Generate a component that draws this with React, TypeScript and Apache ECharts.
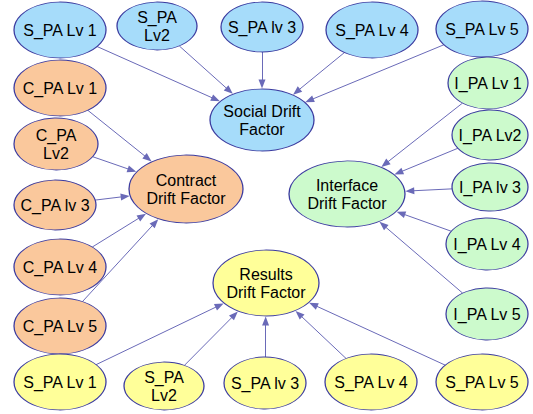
import React, { useEffect, useRef } from "react";
import * as echarts from "echarts";

// ---- Data ----
const nodeNames: string[] = [
  "S_PA Lv 1", "S_PA\nLv2", "S_PA lv 3", "S_PA Lv 4", "S_PA Lv 5", "Social Drift\nFactor",
  "C_PA Lv 1", "C_PA\nLv2", "C_PA lv 3", "C_PA Lv 4", "C_PA Lv 5", "Contract\nDrift Factor",
  "I_PA Lv 1", "I_PA Lv2", "I_PA lv 3", "I_PA Lv 4", "I_PA Lv 5", "Interface\nDrift Factor",
  "S_PA Lv 1 ", "S_PA\nLv2 ", "S_PA lv 3 ", "S_PA Lv 4 ", "S_PA Lv 5 ", "Results\nDrift Factor",
];
const nodeGroup: number[] = [
  0, 0, 0, 0, 0, 0,
  1, 1, 1, 1, 1, 1,
  2, 2, 2, 2, 2, 2,
  3, 3, 3, 3, 3, 3,
];
// edges: [source index, target index]
const edges: [number, number][] = [
  [0, 5], [1, 5], [2, 5], [3, 5], [4, 5],
  [6, 11], [7, 11], [8, 11], [9, 11], [10, 11],
  [12, 17], [13, 17], [14, 17], [15, 17], [16, 17],
  [18, 23], [19, 23], [20, 23], [21, 23], [22, 23],
];

// ---- Layout (pixel positions and ellipse sizes) ----
const nodePos: [number, number][] = [
  [60, 30], [157, 26], [262, 27], [372, 30], [482, 29], [262, 120],
  [60, 88], [56, 144], [55, 205], [60, 267], [60, 326], [186, 189],
  [488, 83], [490, 135], [490, 187], [487, 244], [487, 314], [347, 194],
  [60, 382], [164, 386], [265, 383], [371, 382], [482, 382], [266, 283],
];
const nodeSize: [number, number][] = [
  [92, 56], [80, 48], [82, 50], [92, 56], [92, 56], [104, 62],
  [92, 56], [84, 52], [82, 50], [92, 56], [92, 56], [114, 68],
  [80, 52], [76, 50], [76, 48], [82, 52], [82, 52], [116, 66],
  [92, 56], [80, 48], [82, 52], [92, 56], [92, 56], [106, 66],
];
const groupColors = ["#a6dcfa", "#fac89c", "#ccfacc", "#ffff99"];
const ARROW_LEN = 9;
const ARROW_W = 7;

function boundaryDist(ux: number, uy: number, rx: number, ry: number) {
  return 1 / Math.sqrt((ux / rx) ** 2 + (uy / ry) ** 2);
}

export default function App() {
  const ref = useRef<HTMLDivElement>(null);
  useEffect(() => {
    document.body.style.margin = "0";
    const chart = echarts.init(ref.current!, null, { renderer: "svg" });

    const nodeData = nodeNames.map((name, i) => ({
      name,
      value: nodePos[i],
      symbolSize: nodeSize[i],
      itemStyle: { color: groupColors[nodeGroup[i]] },
    }));

    const edgeData = edges.map(([s, t]) => {
      const [sx, sy] = nodePos[s];
      const [tx, ty] = nodePos[t];
      const dx = tx - sx;
      const dy = ty - sy;
      const len = Math.sqrt(dx * dx + dy * dy);
      const ux = dx / len;
      const uy = dy / len;
      const ds = boundaryDist(ux, uy, nodeSize[s][0] / 2, nodeSize[s][1] / 2);
      const dt = boundaryDist(ux, uy, nodeSize[t][0] / 2, nodeSize[t][1] / 2) + 0.5;
      const start = [sx + ux * ds, sy + uy * ds];
      const end = [tx - ux * (dt + ARROW_LEN / 2), ty - uy * (dt + ARROW_LEN / 2)];
      return { coords: [start, end] };
    });

    chart.setOption({
      animation: false,
      grid: { left: 0, right: 0, top: 0, bottom: 0 },
      xAxis: { type: "value", min: 0, max: 533, show: false },
      yAxis: { type: "value", min: 0, max: 414, inverse: true, show: false },
      series: [
        {
          type: "lines",
          coordinateSystem: "cartesian2d",
          clip: false,
          z: 1,
          symbol: ["none", "triangle"],
          symbolSize: [0, [ARROW_W, ARROW_LEN]],
          lineStyle: { color: "#6a6ab8", width: 1, opacity: 1 },
          itemStyle: { color: "#10108c" },
          emphasis: { disabled: true },
          silent: true,
          data: edgeData,
        },
        {
          type: "scatter",
          clip: false,
          z: 3,
          symbol: "circle",
          silent: true,
          emphasis: { disabled: true },
          itemStyle: { borderColor: "#3c3ca0", borderWidth: 1, opacity: 1 },
          label: {
            show: true,
            position: "inside",
            formatter: (p: any) => p.name.trim(),
            color: "#000",
            fontSize: 16,
            fontFamily: "Liberation Sans, Arial, sans-serif",
            lineHeight: 18,
            align: "center",
          },
          data: nodeData,
        },
      ],
    });
    return () => chart.dispose();
  }, []);
  return <div ref={ref} style={{ width: 533, height: 414 }} />;
}
